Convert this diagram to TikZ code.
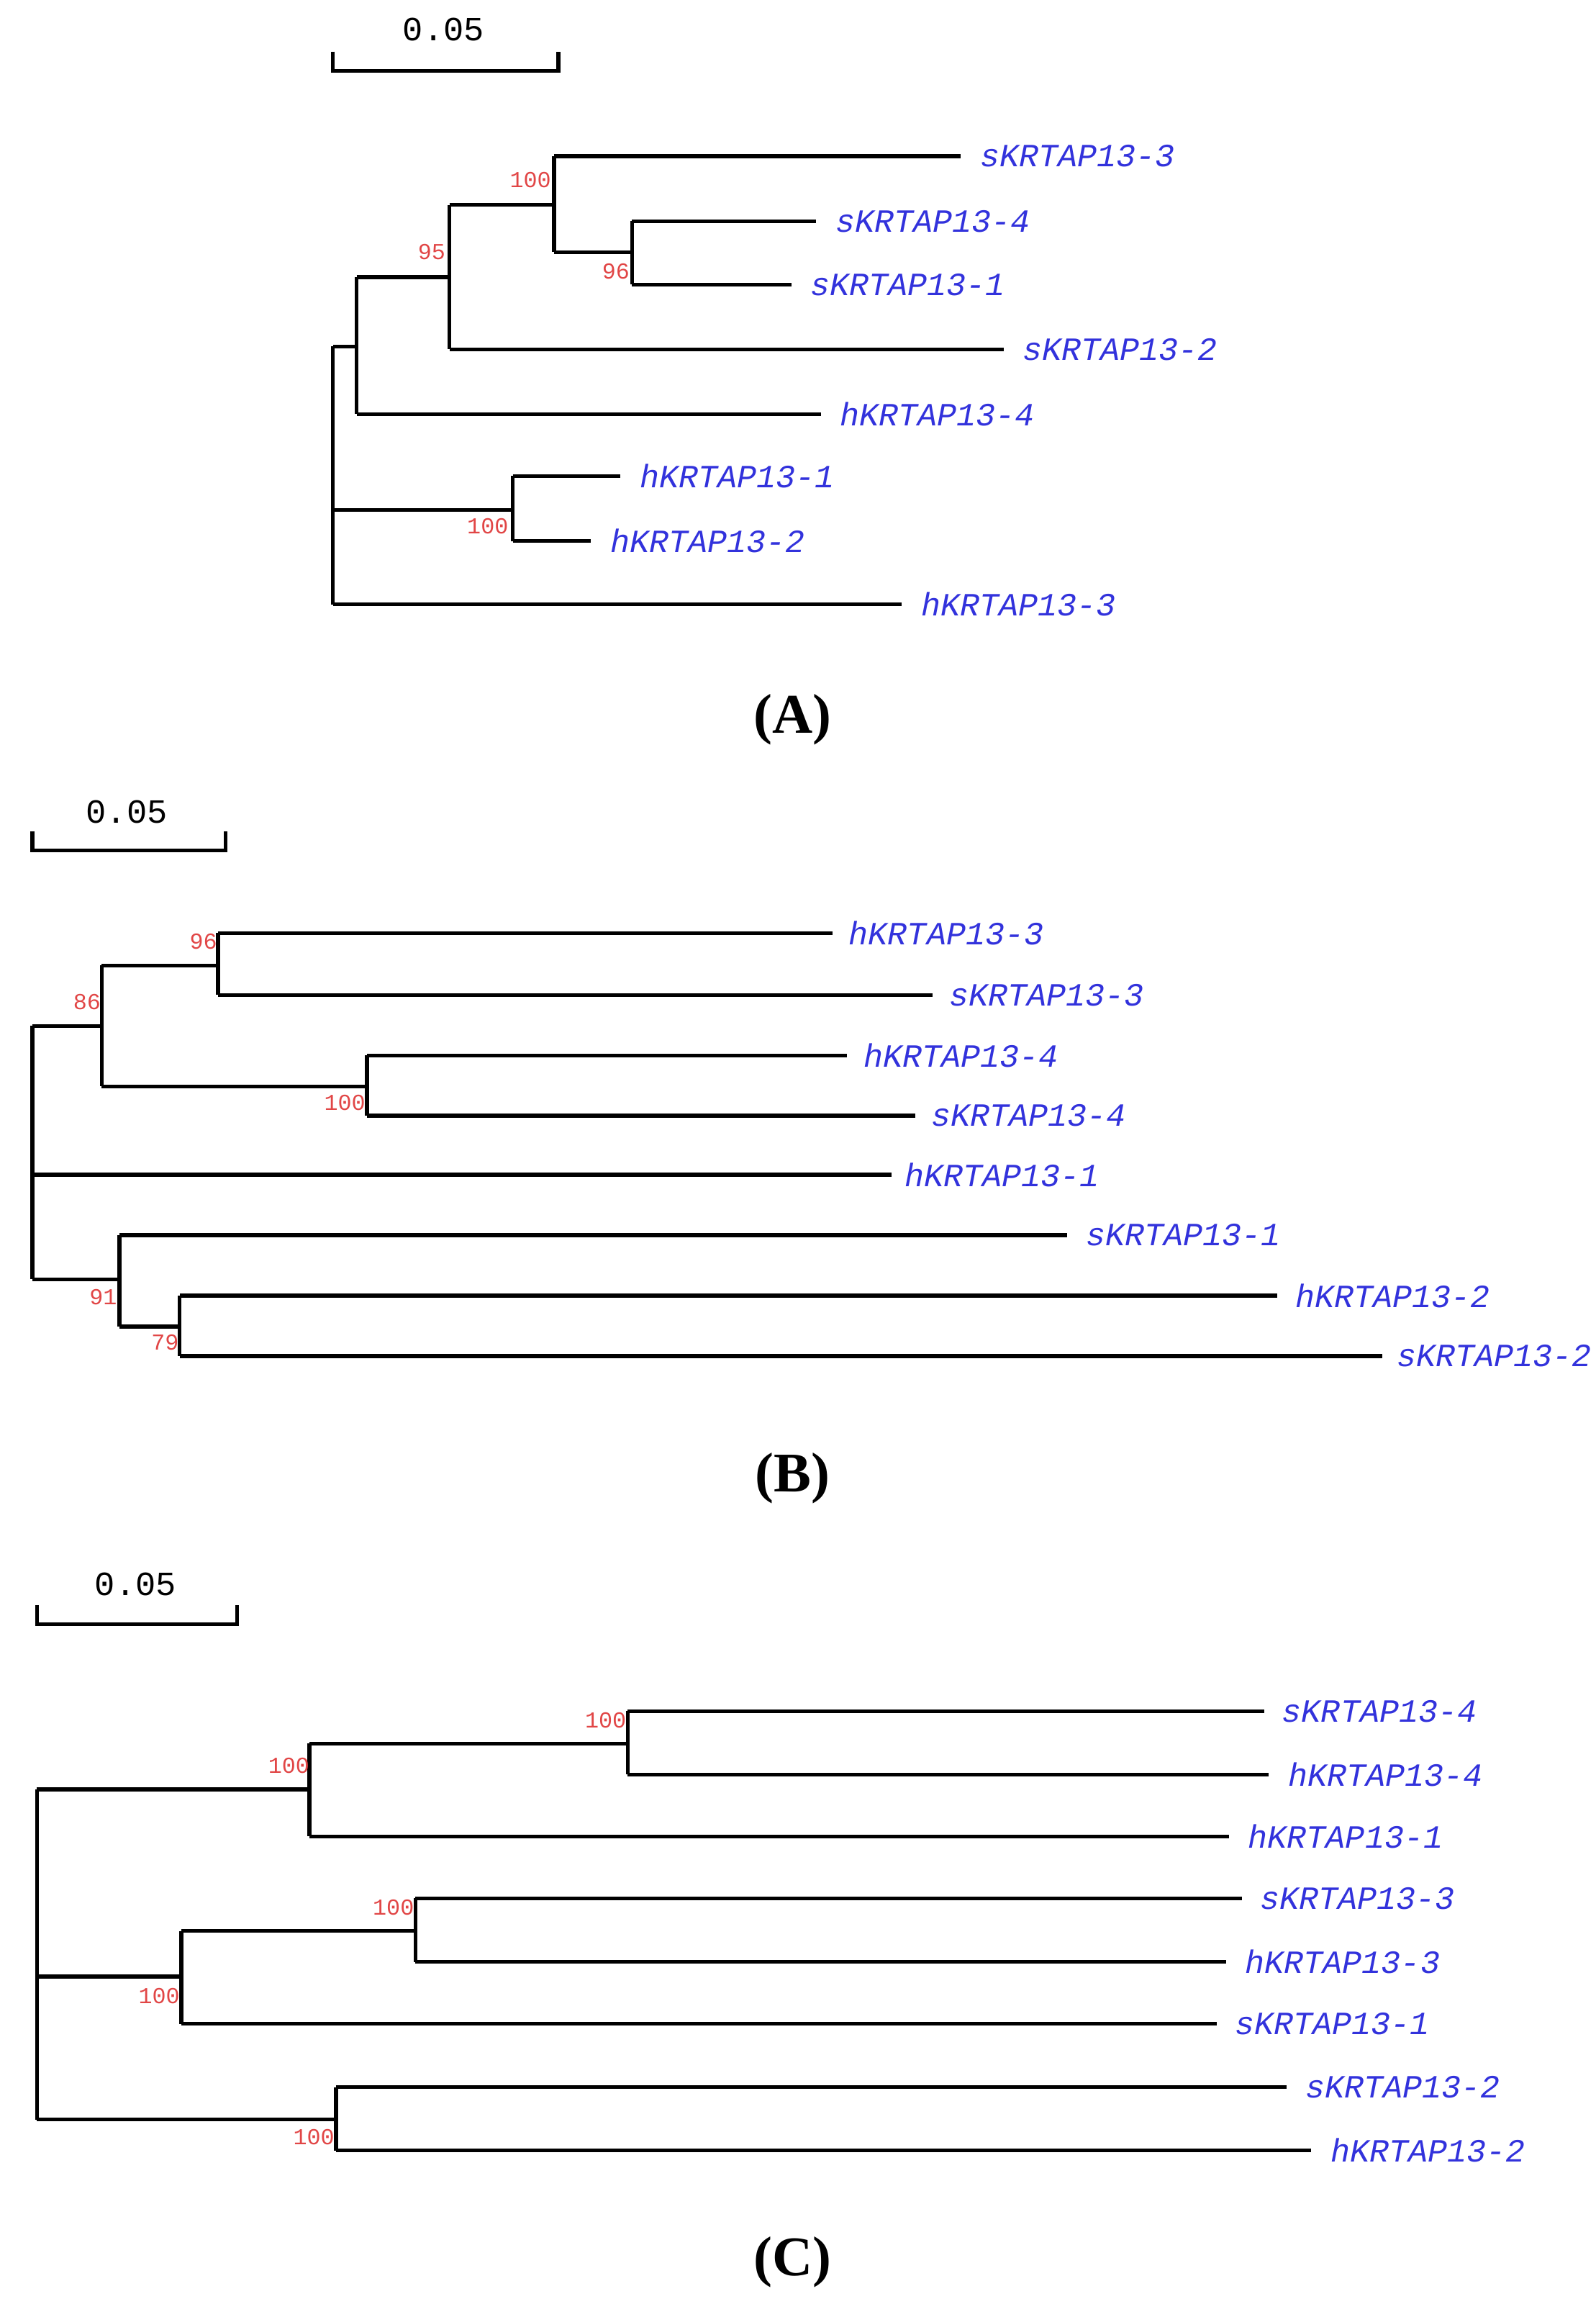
\documentclass[tikz,border=0pt]{standalone}
\usepackage{fontspec}
\setmainfont{Liberation Serif}
\newfontfamily\mono{Liberation Mono}
\definecolor{lab}{RGB}{50,50,220}
\definecolor{bs}{RGB}{225,70,70}
\begin{document}
\begin{tikzpicture}[x=1pt,y=-1pt,
 br/.style={line width=2.6pt},
 leaf/.style={anchor=west,text=lab,font=\mono\itshape\fontsize{22}{22}\selectfont,inner sep=0pt},
 boot/.style={text=bs,font=\mono\fontsize{15.5}{15.5}\selectfont,inner sep=0pt},
 sc/.style={font=\mono\fontsize{23}{23}\selectfont,inner sep=0pt},
 pan/.style={font=\bfseries\fontsize{38}{38}\selectfont,inner sep=0pt}]
\useasboundingbox (0,0) rectangle (1083,1572);
% ---------- A
\draw[br] (226,35) -- (226,48) -- (379,48) -- (379,35);
\node[sc] (sa) at (301,20) {0.05};
\coordinate (la1) at (652,106) ; \coordinate (la2) at (554,150);
\coordinate (la3) at (537,193) ; \coordinate (la4) at (681,237);
\coordinate (la5) at (557,281) ; \coordinate (la6) at (421,323);
\coordinate (la7) at (401,367) ; \coordinate (la8) at (612,410);
\draw[br] (226,235) -- (226,410);
\draw[br] (226,235) -- (242,235); \draw[br] (226,346) -- (348,346); \draw[br] (226,410) -- (la8);
\draw[br] (242,188) -- (242,281); \draw[br] (242,188) -- (305,188); \draw[br] (242,281) -- (la5);
\draw[br] (305,139) -- (305,237); \draw[br] (305,139) -- (376,139); \draw[br] (305,237) -- (la4);
\draw[br] (376,106) -- (376,171); \draw[br] (376,106) -- (la1); \draw[br] (376,171) -- (429,171);
\draw[br] (429,150) -- (429,193); \draw[br] (429,150) -- (la2); \draw[br] (429,193) -- (la3);
\draw[br] (348,323) -- (348,367); \draw[br] (348,323) -- (la6); \draw[br] (348,367) -- (la7);
\node[leaf] (ta1) at ([xshift=13]la1) {sKRTAP13-3};
\node[leaf] (ta2) at ([xshift=13]la2) {sKRTAP13-4};
\node[leaf] (ta3) at ([xshift=13]la3) {sKRTAP13-1};
\node[leaf] (ta4) at ([xshift=13]la4) {sKRTAP13-2};
\node[leaf] (ta5) at ([xshift=13]la5) {hKRTAP13-4};
\node[leaf] (ta6) at ([xshift=13]la6) {hKRTAP13-1};
\node[leaf] (ta7) at ([xshift=13]la7) {hKRTAP13-2};
\node[leaf] (ta8) at ([xshift=13]la8) {hKRTAP13-3};
\node[boot] (ba1) at (360,122) {100};
\node[boot] (ba2) at (293,171) {95};
\node[boot] (ba3) at (418,184) {96};
\node[boot] (ba4) at (331,357) {100};
\node[pan] (pa) at (538,488) {(A)};
% ---------- B
\draw[br] (22,564) -- (22,577) -- (153,577) -- (153,564);
\node[sc] (sb) at (86,551) {0.05};
\draw[br] (22,696) -- (22,868);
\draw[br] (22,696) -- (69,696); \draw[br] (22,797) -- (605,797); \draw[br] (22,868) -- (81,868);
\draw[br] (69,655) -- (69,737); \draw[br] (69,655) -- (148,655); \draw[br] (69,737) -- (249,737);
\draw[br] (148,633) -- (148,675); \draw[br] (148,633) -- (565,633); \draw[br] (148,675) -- (633,675);
\draw[br] (249,716) -- (249,757); \draw[br] (249,716) -- (575,716); \draw[br] (249,757) -- (621,757);
\draw[br] (81,838) -- (81,900); \draw[br] (81,838) -- (724,838); \draw[br] (81,900) -- (122,900);
\draw[br] (122,879) -- (122,920); \draw[br] (122,879) -- (867,879); \draw[br] (122,920) -- (938,920);
\node[leaf] (tb1) at (576,633) {hKRTAP13-3};
\node[leaf] (tb2) at (644,675) {sKRTAP13-3};
\node[leaf] (tb3) at (586,716) {hKRTAP13-4};
\node[leaf] (tb4) at (632,757) {sKRTAP13-4};
\node[leaf] (tb5) at (614,797) {hKRTAP13-1};
\node[leaf] (tb6) at (737,838) {sKRTAP13-1};
\node[leaf] (tb7) at (879,879) {hKRTAP13-2};
\node[leaf] (tb8) at (948,920) {sKRTAP13-2};
\node[boot] (bb1) at (138,639) {96};
\node[boot] (bb2) at (59,680) {86};
\node[boot] (bb3) at (234,748) {100};
\node[boot] (bb4) at (70,880) {91};
\node[boot] (bb5) at (112,911) {79};
\node[pan] (pb) at (538,1003) {(B)};
% ---------- C
\draw[br] (25,1089) -- (25,1102) -- (161,1102) -- (161,1089);
\node[sc] (scc) at (92,1075) {0.05};
\draw[br] (25,1214) -- (25,1438);
\draw[br] (25,1214) -- (210,1214); \draw[br] (25,1341) -- (123,1341); \draw[br] (25,1438) -- (228,1438);
\draw[br] (210,1183) -- (210,1246); \draw[br] (210,1183) -- (426,1183); \draw[br] (210,1246) -- (834,1246);
\draw[br] (426,1161) -- (426,1204); \draw[br] (426,1161) -- (858,1161); \draw[br] (426,1204) -- (861,1204);
\draw[br] (123,1310) -- (123,1373); \draw[br] (123,1310) -- (282,1310); \draw[br] (123,1373) -- (826,1373);
\draw[br] (282,1288) -- (282,1331); \draw[br] (282,1288) -- (843,1288); \draw[br] (282,1331) -- (832,1331);
\draw[br] (228,1416) -- (228,1459); \draw[br] (228,1416) -- (873,1416); \draw[br] (228,1459) -- (890,1459);
\node[leaf] (tc1) at (870,1161) {sKRTAP13-4};
\node[leaf] (tc2) at (874,1204) {hKRTAP13-4};
\node[leaf] (tc3) at (847,1246) {hKRTAP13-1};
\node[leaf] (tc4) at (855,1288) {sKRTAP13-3};
\node[leaf] (tc5) at (845,1331) {hKRTAP13-3};
\node[leaf] (tc6) at (838,1373) {sKRTAP13-1};
\node[leaf] (tc7) at (886,1416) {sKRTAP13-2};
\node[leaf] (tc8) at (903,1459) {hKRTAP13-2};
\node[boot] (bc1) at (411,1167) {100};
\node[boot] (bc2) at (196,1198) {100};
\node[boot] (bc3) at (267,1294) {100};
\node[boot] (bc4) at (108,1354) {100};
\node[boot] (bc5) at (213,1450) {100};
\node[pan] (pc) at (538,1535) {(C)};
\end{tikzpicture}
\end{document}
